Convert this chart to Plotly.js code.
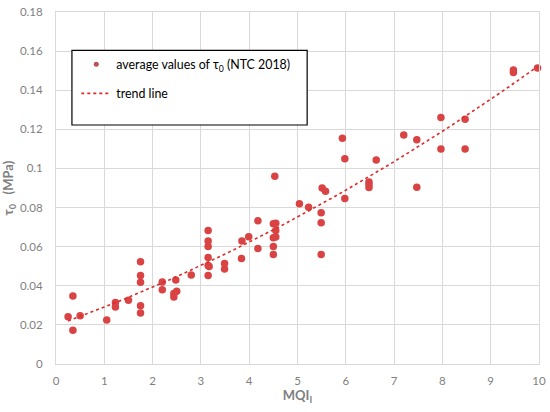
<!DOCTYPE html>
<html>
<head>
<meta charset="utf-8">
<script src="https://cdn.plot.ly/plotly-3.0.1.min.js"></script>
<style>
html,body{margin:0;padding:0;background:#fff;}
#chart{width:550px;height:412px;}
</style>
</head>
<body>
<div id="chart"></div>
<script>
// MQI_I values (x) and average tau0 values (y, MPa)
const mqi = [
  0.25, 0.35, 0.35, 0.50, 1.05, 1.23, 1.23, 1.50,
  1.75, 1.75, 1.75, 1.75, 1.75, 2.20, 2.20, 2.44, 2.44, 2.50, 2.48, 2.80,
  3.15, 3.15, 3.15, 3.15, 3.15, 3.17, 3.15, 3.49, 3.49, 3.84, 3.85, 3.99,
  4.18, 4.18, 4.50, 4.55, 4.55, 4.50, 4.55, 4.50, 4.50, 4.53,
  5.04, 5.23, 5.49, 5.49, 5.49, 5.51, 5.58, 5.93, 5.98, 5.98,
  6.48, 6.48, 6.48, 6.63, 7.20, 7.47, 7.47, 7.97, 7.97, 8.47, 8.47,
  9.47, 9.47, 9.97
];
const tau0 = [
  0.0242, 0.0348, 0.0173, 0.0247, 0.0225, 0.0315, 0.0292, 0.0326,
  0.0523, 0.0453, 0.0418, 0.0298, 0.0261, 0.0419, 0.0380, 0.0360, 0.0343, 0.0372, 0.0430, 0.0455,
  0.0683, 0.0629, 0.0601, 0.0545, 0.0504, 0.0499, 0.0452, 0.0514, 0.0486, 0.0540, 0.0629, 0.0651,
  0.0732, 0.0591, 0.0717, 0.0720, 0.0683, 0.0645, 0.0650, 0.0601, 0.0560, 0.0960,
  0.0819, 0.0802, 0.0773, 0.0722, 0.0560, 0.0900, 0.0883, 0.1154, 0.1050, 0.0846,
  0.0931, 0.0918, 0.0902, 0.1043, 0.1171, 0.1147, 0.0904, 0.1261, 0.1100, 0.1251, 0.1100,
  0.1503, 0.1491, 0.1514
];
const xTickVals = [0,1,2,3,4,5,6,7,8,9,10];
const yTickVals = [0,0.02,0.04,0.06,0.08,0.1,0.12,0.14,0.16,0.18];
const yTickText = ["0","0.02","0.04","0.06","0.08","0.1","0.12","0.14","0.16","0.18"];

// Polynomial (2nd order) least-squares trend line, like the spreadsheet trendline
function quadFit(xs, ys){
  let S=[0,0,0,0,0], T=[0,0,0];
  for(let i=0;i<xs.length;i++){
    let p=1;
    for(let k=0;k<5;k++){S[k]+=p; if(k<3) T[k]+=p*ys[i]; p*=xs[i];}
  }
  const A=[[S[0],S[1],S[2],T[0]],[S[1],S[2],S[3],T[1]],[S[2],S[3],S[4],T[2]]];
  for(let c=0;c<3;c++){
    for(let r=c+1;r<3;r++){
      const f=A[r][c]/A[c][c];
      for(let k=c;k<4;k++) A[r][k]-=f*A[c][k];
    }
  }
  const b=[0,0,0];
  for(let r=2;r>=0;r--){
    let s=A[r][3];
    for(let k=r+1;k<3;k++) s-=A[r][k]*b[k];
    b[r]=s/A[r][r];
  }
  return b;
}
const coef = quadFit(mqi, tau0);
const xmin = Math.min(...mqi), xmax = Math.max(...mqi);
const trendX = [], trendY = [];
for(let i=0;i<=60;i++){
  const x = xmin + (xmax-xmin)*i/60;
  trendX.push(x);
  trendY.push(coef[0]+coef[1]*x+coef[2]*x*x);
}

const red = '#DA4343';
const seriesName = 'average values of τ<sub>0</sub> (NTC 2018)';
const traces = [
  {
    x: mqi, y: tau0, type:'scatter', mode:'markers',
    name: seriesName, showlegend:false,
    marker:{color:red, size:7.5},
    cliponaxis:false
  },
  {
    x: trendX, y: trendY, type:'scatter', mode:'lines',
    name:'trend line', showlegend:false,
    line:{color:'#E02A2A', width:1.6, dash:'dot'}
  },
  // legend-only entries (smaller legend symbols as in the reference)
  {
    x:[null], y:[null], type:'scatter', mode:'markers',
    name: seriesName, legendgroup:'a',
    marker:{color:'#C0504D', size:5}
  },
  {
    x:[null], y:[null], type:'scatter', mode:'lines',
    name:'trend line', legendgroup:'b',
    line:{color:'#E02A2A', width:1.6, dash:'dot'}
  }
];

const grid = '#D9D9D9';
const tickFont = {family:'Lato, "Open Sans", sans-serif', size:11.5, color:'#7F7F7F'};
const layout = {
  width:550, height:412,
  margin:{l:56, r:11, t:12, b:47.5, pad:0},
  paper_bgcolor:'#ffffff', plot_bgcolor:'#ffffff',
  font:{family:'Lato, "Open Sans", sans-serif', color:'#595959'},
  xaxis:{
    range:[0,10], tickvals:xTickVals, ticktext:xTickVals.map(String),
    showgrid:true, gridcolor:grid, gridwidth:1,
    showline:true, linecolor:grid, linewidth:1, mirror:true,
    zeroline:false, ticks:'', tickfont:tickFont, ticklabelstandoff:6,
    title:{text:'<b>MQI<sub>I</sub></b>', font:{size:13, color:'#7F7F7F', family:'Lato, sans-serif'}, standoff:4}
  },
  yaxis:{
    range:[0,0.18], tickvals:yTickVals, ticktext:yTickText,
    showgrid:true, gridcolor:grid, gridwidth:1,
    showline:true, linecolor:grid, linewidth:1, mirror:true,
    zeroline:false, ticks:'', tickfont:tickFont, ticklabelstandoff:10,
    title:{text:'<b>τ<sub>0</sub>   (MPa)</b>', font:{size:13, color:'#7F7F7F', family:'Lato, sans-serif'}, standoff:8}
  },
  showlegend:true,
  legend:{
    x:0.042, y:0.893, xanchor:'left', yanchor:'top',
    bgcolor:'rgba(255,255,255,0)', borderwidth:0,
    font:{family:'Lato, "Open Sans", sans-serif', size:12.4, color:'#000000'},
    tracegroupgap:10, itemwidth:30
  },
  shapes:[{
    type:'rect', xref:'paper', yref:'paper',
    x0:0.033, x1:0.52, y0:0.679, y1:0.891,
    line:{color:'#000000', width:1.2}, fillcolor:'#ffffff', layer:'above'
  }]
};
Plotly.newPlot('chart', traces, layout, {displayModeBar:false, staticPlot:true});
</script>
</body>
</html>
